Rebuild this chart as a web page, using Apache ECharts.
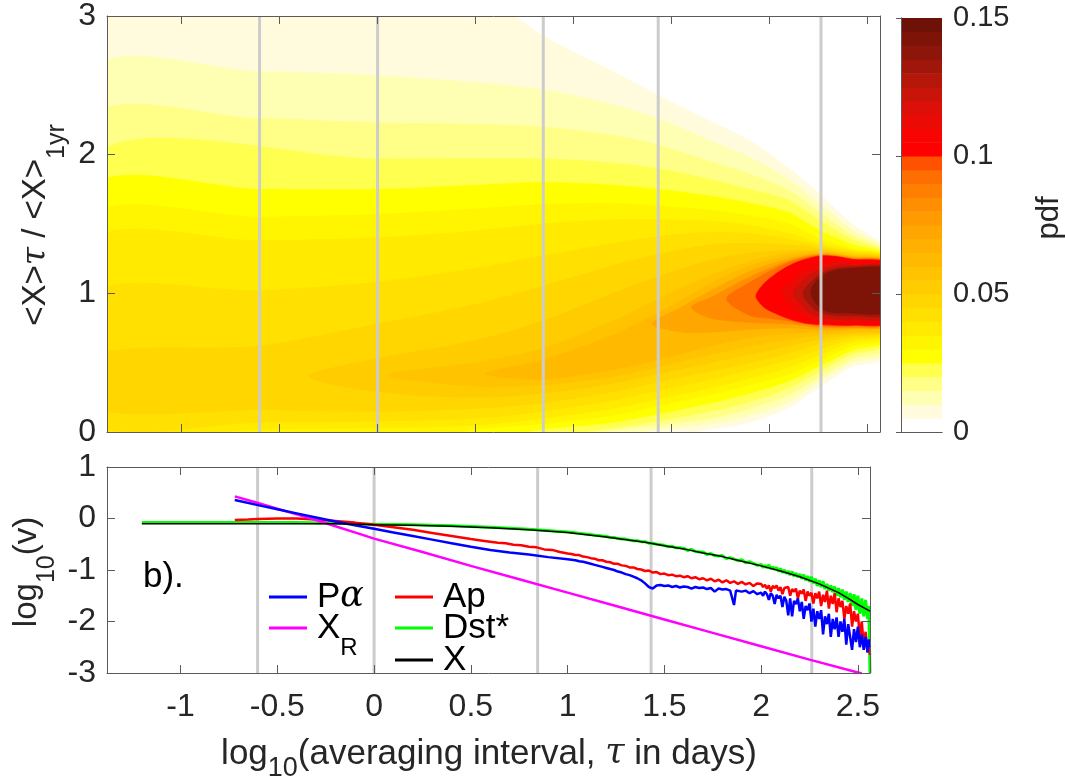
<!DOCTYPE html>
<html>
<head>
<meta charset="utf-8">
<script src="https://cdn.jsdelivr.net/npm/echarts@6/dist/echarts.min.js"></script>
<style>
html,body{margin:0;padding:0;background:#fff;}
#chart{width:1065px;height:782px;}
</style>
</head>
<body>
<div id="chart"></div>
<script>
// ---------- data ----------
// averaging interval axis: 1 hour .. 1 year, in log10(days)
const LOG_TAU_MIN = Math.log10(1 / 24);
const LOG_TAU_MAX = Math.log10(365.25);
const xTickValues = [-1, -0.5, 0, 0.5, 1, 1.5, 2, 2.5];
// reference intervals marked by vertical lines (days): 6 h, 1 d, 1 wk, 27 d, 6 months
const markerDays = [0.25, 1, 7, 27, 182.625];
const pdfTicks = [0, 0.05, 0.1, 0.15];
const PDF_BAND = 0.005;

// filled contour levels of the pdf of <X>tau/<X>1yr (panel a)
const pdfLevels = [0.005, 0.01, 0.015, 0.02, 0.025, 0.03, 0.035, 0.04, 0.045, 0.05,
                   0.055, 0.06, 0.07, 0.08, 0.09, 0.10, 0.11, 0.12, 0.13, 0.14];
// closed outline of the region pdf >= level, as [log10 tau, ratio] pairs
// (vertices on the frame are placed just outside it; the plot clips them)
const pdfContours = [
  [[-1.45,3.05],[0.61,3.05],[0.84,2.86],[1.0,2.74],[1.2,2.6],[1.43,2.43],[1.7,2.24],[1.9,2.1],[2.1,1.9],[2.26,1.71],[2.42,1.5],[2.6,1.3],
   [2.6,0.55],[2.42,0.47],[2.26,0.33],[2.1,0.18],[1.9,0.07],[1.7,0.02],[1.45,-0.03],[-1.45,-0.03]],
  [[-1.45,2.6],[-0.6,2.6],[0,2.57],[0.5,2.52],[0.84,2.47],[1.2,2.36],[1.43,2.26],[1.7,2.1],[1.9,1.98],[2.1,1.82],[2.26,1.64],[2.42,1.46],[2.6,1.29],
   [2.6,0.58],[2.42,0.5],[2.26,0.37],[2.1,0.22],[1.9,0.12],[1.7,0.06],[1.43,0.02],[1.2,-0.03],[-1.45,-0.03]],
  [[-1.45,2.26],[-0.6,2.26],[0,2.23],[0.5,2.22],[0.84,2.2],[1.2,2.14],[1.43,2.07],[1.7,1.95],[1.9,1.86],[2.1,1.74],[2.26,1.58],[2.42,1.42],[2.6,1.28],
   [2.6,0.61],[2.42,0.53],[2.26,0.4],[2.1,0.27],[1.9,0.17],[1.7,0.1],[1.43,0.05],[1.2,0.01],[1.0,-0.03],[-1.45,-0.03]],
  [[-1.45,1.99],[0,1.97],[0.84,1.97],[1.2,1.94],[1.43,1.9],[1.7,1.82],[1.9,1.75],[2.1,1.67],[2.26,1.52],[2.42,1.39],[2.6,1.27],
   [2.6,0.64],[2.42,0.56],[2.26,0.44],[2.1,0.32],[1.9,0.22],[1.7,0.15],[1.43,0.08],[1.2,0.03],[0.84,-0.03],[-1.45,-0.03]],
  [[-1.45,1.76],[-0.6,1.75],[0,1.75],[0.5,1.78],[0.84,1.8],[1.2,1.78],[1.43,1.75],[1.7,1.7],[1.9,1.65],[2.1,1.58],[2.26,1.45],[2.42,1.35],[2.6,1.26],
   [2.6,0.67],[2.42,0.59],[2.26,0.48],[2.1,0.37],[1.9,0.28],[1.7,0.21],[1.43,0.13],[1.2,0.07],[0.84,0.02],[0.6,-0.03],[-1.45,-0.03]],
  [[-1.45,1.55],[-0.6,1.55],[0,1.57],[0.5,1.61],[0.84,1.64],[1.2,1.65],[1.43,1.63],[1.7,1.6],[1.9,1.56],[2.1,1.5],[2.26,1.39],[2.42,1.32],[2.6,1.255],
   [2.6,0.69],[2.42,0.62],[2.26,0.52],[2.1,0.42],[1.9,0.34],[1.7,0.27],[1.43,0.19],[1.2,0.12],[0.84,0.06],[0.5,0.02],[0.3,-0.03],[-1.45,-0.03]],
  [[-1.45,1.38],[-0.6,1.38],[0,1.4],[0.5,1.45],[0.84,1.5],[1.2,1.53],[1.43,1.53],[1.7,1.52],[1.9,1.49],[2.1,1.43],[2.26,1.36],[2.42,1.31],[2.6,1.25],
   [2.6,0.71],[2.42,0.65],[2.26,0.56],[2.1,0.47],[1.9,0.39],[1.7,0.32],[1.43,0.24],[1.2,0.17],[0.84,0.1],[0.5,0.05],[0,0.03],[-0.6,0.02],[-1.45,0.02]],
  [[-1.45,1.0],[-0.6,1.02],[0,1.08],[0.5,1.18],[0.84,1.27],[1.2,1.36],[1.43,1.41],[1.7,1.44],[1.9,1.43],[2.1,1.39],[2.26,1.34],[2.42,1.3],[2.6,1.245],
   [2.6,0.72],[2.42,0.67],[2.26,0.6],[2.1,0.52],[1.9,0.45],[1.7,0.38],[1.43,0.3],[1.2,0.23],[0.84,0.15],[0.5,0.1],[0,0.08],[-0.6,0.07],[-1.45,0.07]],
  [[-1.45,0.55],[-0.6,0.62],[0,0.78],[0.5,0.92],[0.84,1.05],[1.2,1.2],[1.43,1.28],[1.7,1.35],[1.9,1.36],[2.1,1.35],[2.26,1.325],[2.42,1.29],[2.6,1.24],
   [2.6,0.735],[2.42,0.69],[2.26,0.64],[2.1,0.57],[1.9,0.5],[1.7,0.44],[1.43,0.36],[1.2,0.29],[0.84,0.21],[0.5,0.17],[0,0.15],[-0.6,0.16],[-1.45,0.17]],
  [[-0.35,0.4],[0,0.53],[0.5,0.66],[0.84,0.8],[1.2,1.0],[1.43,1.12],[1.7,1.24],[1.9,1.29],[2.1,1.31],[2.26,1.31],[2.42,1.28],[2.6,1.235],
   [2.6,0.745],[2.42,0.705],[2.26,0.67],[2.1,0.62],[1.9,0.56],[1.7,0.5],[1.43,0.42],[1.2,0.35],[0.84,0.28],[0.5,0.25],[0,0.29]],
  [[0.05,0.41],[0.5,0.5],[0.84,0.6],[1.2,0.8],[1.43,0.96],[1.7,1.13],[1.9,1.23],[2.1,1.29],[2.26,1.3],[2.42,1.27],[2.6,1.23],
   [2.6,0.755],[2.42,0.72],[2.26,0.7],[2.1,0.67],[1.9,0.62],[1.7,0.56],[1.43,0.47],[1.2,0.4],[0.84,0.34],[0.5,0.33]],
  [[0.55,0.42],[0.84,0.52],[1.2,0.7],[1.43,0.86],[1.7,1.07],[1.9,1.2],[2.1,1.27],[2.26,1.29],[2.42,1.265],[2.6,1.225],
   [2.6,0.77],[2.42,0.735],[2.26,0.72],[2.1,0.71],[1.9,0.68],[1.7,0.62],[1.43,0.52],[1.2,0.45],[0.84,0.38]],
  [[1.4,0.78],[1.55,0.9],[1.7,1.02],[1.9,1.16],[2.1,1.25],[2.26,1.285],[2.42,1.26],[2.6,1.22],
   [2.6,0.78],[2.42,0.745],[2.26,0.74],[2.1,0.75],[1.9,0.74],[1.7,0.72],[1.55,0.72]],
  [[1.6,0.9],[1.7,0.97],[1.9,1.12],[2.1,1.235],[2.26,1.28],[2.42,1.255],[2.6,1.22],
   [2.6,0.78],[2.42,0.755],[2.26,0.755],[2.1,0.78],[1.9,0.79],[1.7,0.82]],
  [[1.78,0.96],[1.9,1.08],[2.0,1.16],[2.1,1.225],[2.26,1.275],[2.42,1.25],[2.6,1.215],
   [2.6,0.79],[2.42,0.765],[2.26,0.765],[2.1,0.8],[2.0,0.82],[1.9,0.84]],
  [[1.93,0.98],[1.97,1.07],[2.03,1.14],[2.1,1.2],[2.18,1.245],[2.26,1.27],[2.34,1.265],[2.42,1.245],[2.6,1.21],
   [2.6,0.795],[2.42,0.77],[2.34,0.77],[2.26,0.775],[2.18,0.785],[2.1,0.815],[2.03,0.855],[1.97,0.9]],
  [[2.06,1.0],[2.1,1.08],[2.15,1.14],[2.2,1.18],[2.26,1.21],[2.34,1.225],[2.42,1.215],[2.6,1.195],
   [2.6,0.815],[2.42,0.79],[2.34,0.79],[2.26,0.8],[2.2,0.82],[2.15,0.86],[2.1,0.92]],
  [[2.12,1.0],[2.16,1.08],[2.2,1.13],[2.26,1.17],[2.34,1.2],[2.42,1.2],[2.6,1.185],
   [2.6,0.835],[2.42,0.815],[2.34,0.815],[2.26,0.83],[2.2,0.86],[2.16,0.92]],
  [[2.17,1.0],[2.21,1.08],[2.26,1.14],[2.34,1.18],[2.42,1.19],[2.6,1.175],
   [2.6,0.855],[2.42,0.84],[2.34,0.84],[2.26,0.86],[2.21,0.91]],
  [[2.21,1.01],[2.24,1.09],[2.3,1.15],[2.38,1.175],[2.6,1.165],
   [2.6,0.875],[2.38,0.86],[2.3,0.865],[2.24,0.92]]
];

// panel b: log10 of normalised variance vs log10 averaging interval
const seriesPalpha = [
  [-0.72,0.36],[-0.6,0.26],[-0.5,0.18],[-0.4,0.1],[-0.3,0.02],[-0.2,-0.06],[-0.1,-0.13],[0,-0.2],[0.1,-0.27],
  [0.2,-0.34],[0.3,-0.41],[0.4,-0.48],[0.5,-0.55],[0.6,-0.61],[0.7,-0.66],[0.8,-0.7],[0.9,-0.75],[1.0,-0.79],
  [1.02,-0.8],[1.04,-0.81],[1.06,-0.83],[1.08,-0.84],[1.1,-0.86],[1.12,-0.88],[1.14,-0.9],[1.16,-0.92],[1.18,-0.94],
  [1.2,-0.96],[1.22,-0.98],[1.24,-1.0],[1.26,-1.03],[1.28,-1.05],[1.3,-1.08],[1.32,-1.1],[1.34,-1.13],[1.36,-1.16],
  [1.38,-1.2],[1.4,-1.26],[1.42,-1.33],[1.44,-1.36],[1.46,-1.3],[1.48,-1.29],[1.5,-1.31],[1.52,-1.3],[1.54,-1.33],
  [1.56,-1.31],[1.58,-1.34],[1.6,-1.32],[1.62,-1.33],[1.64,-1.36],[1.66,-1.33],[1.68,-1.35],[1.7,-1.34],[1.72,-1.37],
  [1.74,-1.35],[1.76,-1.42],[1.78,-1.36],[1.8,-1.38],[1.82,-1.37],[1.84,-1.4],[1.86,-1.68],[1.87,-1.4],[1.88,-1.39],
  [1.9,-1.42],[1.92,-1.4],[1.94,-1.45],[1.96,-1.41],[1.98,-1.47],
  [2.0,-1.44],[2.01,-1.5],[2.02,-1.42],[2.03,-1.47],[2.04,-1.58],[2.05,-1.45],[2.06,-1.5],[2.07,-1.66],[2.08,-1.48],
  [2.09,-1.55],[2.1,-1.5],[2.11,-1.72],[2.12,-1.52],[2.13,-1.6],[2.14,-1.88],[2.15,-1.55],[2.16,-1.9],[2.17,-1.6],
  [2.18,-1.66],[2.19,-1.55],[2.2,-1.8],[2.21,-1.62],[2.22,-1.95],[2.23,-1.7],[2.24,-1.78],[2.25,-1.65],[2.26,-2.0],
  [2.27,-1.75],[2.28,-2.1],[2.29,-1.8],[2.3,-1.95],[2.31,-1.78],[2.32,-2.25],[2.33,-1.9],[2.34,-2.05],[2.35,-1.85],
  [2.36,-2.3],[2.37,-1.95],[2.38,-2.15],[2.39,-1.92],[2.4,-2.3],[2.41,-2.0],[2.42,-2.2],[2.43,-1.95],[2.44,-2.45],
  [2.45,-2.05],[2.46,-2.3],[2.47,-2.55],[2.48,-2.15],[2.49,-2.4],[2.5,-2.1],[2.51,-2.5],[2.52,-2.25],[2.53,-2.55],
  [2.54,-2.3],[2.55,-2.6],[2.556,-2.35],[2.5626,-2.5]
];
const seriesAp = [
  [-0.72,-0.03],[-0.65,-0.02],[-0.6,-0.01],[-0.5,0.0],[-0.4,0.0],[-0.3,-0.02],[-0.2,-0.05],[-0.1,-0.08],[0,-0.12],
  [0.1,-0.17],[0.2,-0.22],[0.3,-0.28],[0.4,-0.34],[0.5,-0.4],[0.56,-0.43],[0.6,-0.45],[0.64,-0.47],[0.68,-0.48],
  [0.72,-0.51],[0.76,-0.52],[0.8,-0.55],[0.84,-0.56],[0.88,-0.6],[0.92,-0.61],[0.96,-0.65],
  [1.0,-0.68],[1.02,-0.69],[1.04,-0.71],[1.06,-0.71],[1.08,-0.74],[1.1,-0.75],[1.12,-0.77],[1.14,-0.78],[1.16,-0.81],
  [1.18,-0.81],[1.2,-0.84],[1.22,-0.85],[1.24,-0.88],[1.26,-0.88],[1.28,-0.91],[1.3,-0.92],[1.32,-0.95],[1.34,-0.95],
  [1.36,-0.98],[1.38,-0.99],[1.4,-1.02],[1.42,-1.01],[1.44,-1.05],[1.46,-1.04],[1.48,-1.08],[1.5,-1.07],[1.52,-1.1],
  [1.54,-1.09],[1.56,-1.12],[1.58,-1.11],[1.6,-1.14],[1.62,-1.12],[1.64,-1.16],[1.66,-1.14],[1.68,-1.18],[1.7,-1.16],
  [1.72,-1.2],[1.74,-1.17],[1.76,-1.22],[1.78,-1.19],[1.8,-1.24],[1.82,-1.2],[1.84,-1.25],[1.86,-1.22],[1.88,-1.27],
  [1.9,-1.23],[1.92,-1.28],[1.94,-1.25],[1.96,-1.31],[1.98,-1.26],
  [2.0,-1.27],[2.01,-1.33],[2.02,-1.29],[2.03,-1.36],[2.04,-1.3],[2.05,-1.42],[2.06,-1.31],[2.07,-1.35],[2.08,-1.3],
  [2.09,-1.4],[2.1,-1.33],[2.11,-1.47],[2.12,-1.35],[2.13,-1.38],[2.14,-1.33],[2.15,-1.5],[2.16,-1.37],[2.17,-1.42],
  [2.18,-1.36],[2.19,-1.55],[2.2,-1.4],[2.21,-1.46],[2.22,-1.38],[2.23,-1.6],[2.24,-1.42],[2.25,-1.5],[2.26,-1.44],
  [2.27,-1.65],[2.28,-1.45],[2.29,-1.55],[2.3,-1.42],[2.31,-1.7],[2.32,-1.48],[2.33,-1.62],[2.34,-1.4],[2.35,-1.75],
  [2.36,-1.5],[2.37,-1.66],[2.38,-1.45],[2.39,-1.82],[2.4,-1.55],[2.41,-1.72],[2.42,-1.6],[2.43,-1.95],[2.44,-1.7],
  [2.45,-1.85],[2.46,-1.65],[2.47,-2.1],[2.48,-1.8],[2.49,-2.0],[2.5,-1.85],[2.51,-2.3],[2.52,-2.0],[2.53,-2.45],
  [2.54,-2.2],[2.55,-2.6],[2.556,-2.4],[2.5626,-2.65]
];
const seriesXR = [
  [-0.72,0.43],[-0.6,0.3],[-0.5,0.19],[-0.4,0.08],[-0.3,-0.03],[-0.2,-0.15],[-0.1,-0.27],[0,-0.39],[0.25,-0.65],
  [0.5,-0.92],[0.75,-1.18],[1.0,-1.44],[1.25,-1.7],[1.5,-1.96],[1.75,-2.22],[2.0,-2.48],[2.25,-2.74],[2.5,-2.99],[2.52,-3.01]
];
const seriesDst = [
  [-1.2,-0.08],[-1.0,-0.08],[-0.8,-0.08],[-0.6,-0.08],[-0.4,-0.08],[-0.2,-0.09],[0,-0.11],[0.2,-0.12],[0.4,-0.14],
  [0.6,-0.17],[0.8,-0.21],[1.0,-0.26],
  [1.2,-0.35],[1.22,-0.37],[1.24,-0.37],[1.26,-0.39],[1.28,-0.4],[1.3,-0.4],[1.32,-0.42],[1.34,-0.43],[1.36,-0.43],
  [1.38,-0.45],[1.4,-0.45],[1.42,-0.48],[1.44,-0.48],[1.46,-0.5],[1.48,-0.51],[1.5,-0.52],[1.52,-0.55],[1.54,-0.54],
  [1.56,-0.57],[1.58,-0.57],[1.6,-0.58],[1.62,-0.62],[1.64,-0.6],[1.66,-0.64],[1.68,-0.65],[1.7,-0.65],[1.72,-0.7],
  [1.74,-0.68],[1.76,-0.72],[1.78,-0.73],[1.8,-0.72],[1.82,-0.78],[1.84,-0.76],[1.86,-0.79],[1.88,-0.82],[1.9,-0.8],
  [1.92,-0.86],[1.94,-0.84],[1.96,-0.87],[1.98,-0.91],
  [2.0,-0.89],[2.01,-0.95],[2.02,-0.91],[2.03,-0.96],[2.04,-0.9],[2.05,-0.98],[2.06,-0.94],[2.07,-0.99],[2.08,-0.95],
  [2.09,-1.03],[2.1,-0.97],[2.11,-1.05],[2.12,-1.0],[2.13,-1.07],[2.14,-1.02],[2.15,-1.1],[2.16,-1.03],[2.17,-1.12],
  [2.18,-1.06],[2.19,-1.14],[2.2,-1.08],[2.21,-1.17],[2.22,-1.09],[2.23,-1.2],[2.24,-1.12],[2.25,-1.23],[2.26,-1.13],
  [2.27,-1.26],[2.28,-1.17],[2.29,-1.31],[2.3,-1.2],[2.31,-1.33],[2.32,-1.22],[2.33,-1.37],[2.34,-1.27],[2.35,-1.4],
  [2.36,-1.3],[2.37,-1.43],[2.38,-1.32],[2.39,-1.5],[2.4,-1.35],[2.41,-1.53],[2.42,-1.38],[2.43,-1.58],[2.44,-1.42],
  [2.45,-1.62],[2.46,-1.45],[2.47,-1.7],[2.48,-1.47],[2.49,-1.78],[2.5,-1.5],[2.51,-1.85],[2.52,-1.55],[2.53,-1.9],
  [2.54,-1.58],[2.55,-1.95],[2.556,-1.7],[2.5626,-3.0]
];
const seriesX = [
  [-1.2,-0.1],[-1.0,-0.1],[-0.8,-0.1],[-0.6,-0.1],[-0.4,-0.1],[-0.2,-0.1],[0,-0.12],[0.2,-0.13],[0.4,-0.15],
  [0.6,-0.18],[0.8,-0.22],[1.0,-0.27],[1.2,-0.36],[1.4,-0.46],[1.5,-0.53],[1.6,-0.59],[1.7,-0.67],[1.8,-0.74],
  [1.9,-0.83],[2.0,-0.92],[2.1,-1.02],[2.2,-1.13],[2.3,-1.27],[2.4,-1.44],[2.45,-1.55],[2.5,-1.67],[2.5626,-1.8]
];

// ---------- styles ----------
// one colour per 0.005-wide pdf band, from 0 up to 0.15
const pdfBandColors = [
  '#ffffff','#fffbdc','#ffffb4','#ffff88','#ffff50','#ffff00','#fff500','#ffea00','#ffe000','#ffd600',
  '#ffcc00','#ffc300','#ffba00','#ffb000','#ffa600','#ff9a00','#ff8e00','#ff8000','#ff6e00','#ff5200',
  '#ff0000','#f80402','#ec0a05','#dc1008','#c81409','#b4160a','#a0160a','#8e1509','#7e1308','#6e1107'
];
function bandColor(v) {
  const i = Math.min(pdfBandColors.length - 1, Math.floor(v / PDF_BAND + 1e-6));
  return pdfBandColors[i];
}
const FONT = '"Liberation Sans", Arial, Helvetica, sans-serif';
const GREEK = '"DejaVu Serif", serif';
const INK = '#262626';
const AXIS = '#5a5a5a';
const TICK_FONT = 32;

const markerLogTau = markerDays.map(d => Math.log10(d));

function xAxisBox(gridIndex, position, showLabel) {
  return {
    type: 'value', gridIndex, position, min: LOG_TAU_MIN, max: LOG_TAU_MAX, z: 10,
    axisLine: { show: true, onZero: false, lineStyle: { color: AXIS, width: 1 } },
    axisTick: { show: true, inside: true, length: 8, customValues: xTickValues, lineStyle: { color: AXIS } },
    axisLabel: { show: showLabel, customValues: xTickValues, margin: 18, color: INK, fontSize: TICK_FONT, fontFamily: FONT,
                 formatter: v => String(v) },
    splitLine: { show: false }
  };
}
function yAxisBox(gridIndex, position, min, max, showLabel) {
  return {
    type: 'value', gridIndex, position, min, max, interval: 1, z: 10,
    axisLine: { show: true, onZero: false, lineStyle: { color: AXIS, width: 1 } },
    axisTick: { show: true, inside: true, length: 8, lineStyle: { color: AXIS } },
    axisLabel: { show: showLabel, margin: 11, color: INK, fontSize: TICK_FONT, fontFamily: FONT },
    splitLine: { show: false }
  };
}

function markerLines(xAxisIndex, yAxisIndex, yMin, yMax, z) {
  return {
    type: 'custom', xAxisIndex, yAxisIndex, z, silent: true, clip: true,
    data: markerLogTau.map(v => [v, yMin]),
    renderItem: (params, api) => {
      const p1 = api.coord([api.value(0), yMin]);
      const p2 = api.coord([api.value(0), yMax]);
      return { type: 'line', shape: { x1: p1[0], y1: p1[1], x2: p2[0], y2: p2[1] },
               style: { stroke: '#cccccc', lineWidth: 3 } };
    }
  };
}

function lineSeries(name, data, color, width, z) {
  return {
    name, type: 'line', xAxisIndex: 2, yAxisIndex: 2, data, z,
    showSymbol: false, symbol: 'none', clip: true, smooth: false,
    lineStyle: { color, width }, itemStyle: { color }
  };
}

// rich-text styles: subscripts sit lower by half their top padding
function richStyles(main, sub, drop, color) {
  return {
    n: { fontSize: main, fontFamily: FONT, color, fill: color, lineHeight: main, verticalAlign: 'middle' },
    g: { fontSize: main, fontFamily: GREEK, fontStyle: 'italic', color, fill: color, lineHeight: main, verticalAlign: 'middle' },
    s: { fontSize: sub, fontFamily: FONT, color, fill: color, lineHeight: sub, padding: [2 * drop, 0, 0, 0], verticalAlign: 'middle' }
  };
}

function legendAt(name, left, top, formatter) {
  return {
    data: [name], left, top, orient: 'vertical', padding: 0, icon: 'rect', itemWidth: 38, itemHeight: 3,
    selectedMode: false, formatter,
    textStyle: { fontSize: 35, fontFamily: FONT, color: '#000', padding: [0, 0, 0, 5], rich: richStyles(35, 24, 20, '#000') }
  };
}

const option = {
  animation: false,
  backgroundColor: '#ffffff',
  grid: [
    { left: 107, top: 16, width: 773, height: 416 },
    { left: 107, top: 467, width: 763, height: 206 },
    { left: 901, top: 18, width: 41, height: 414 }
  ],
  xAxis: [
    xAxisBox(0, 'bottom', false),
    xAxisBox(0, 'top', false),
    xAxisBox(1, 'bottom', true),
    xAxisBox(1, 'top', false),
    { type: 'value', gridIndex: 2, position: 'bottom', min: 0, max: 1, z: 10,
      axisLine: { show: true, lineStyle: { color: AXIS } }, axisTick: { show: false }, axisLabel: { show: false }, splitLine: { show: false } },
    { type: 'value', gridIndex: 2, position: 'top', min: 0, max: 1, z: 10,
      axisLine: { show: true, lineStyle: { color: AXIS } }, axisTick: { show: false }, axisLabel: { show: false }, splitLine: { show: false } }
  ],
  yAxis: [
    yAxisBox(0, 'left', 0, 3, true),
    yAxisBox(0, 'right', 0, 3, false),
    yAxisBox(1, 'left', -3, 1, true),
    yAxisBox(1, 'right', -3, 1, false),
    { type: 'value', gridIndex: 2, position: 'right', min: 0, max: 0.15, z: 10,
      axisLine: { show: true, lineStyle: { color: AXIS } },
      axisTick: { show: true, inside: true, length: 5, customValues: pdfTicks, lineStyle: { color: AXIS } },
      axisLabel: { show: true, customValues: pdfTicks, margin: 11, color: INK, fontSize: 29, fontFamily: FONT,
                   formatter: v => String(v) },
      splitLine: { show: false } },
    { type: 'value', gridIndex: 2, position: 'left', min: 0, max: 0.15, z: 10,
      axisLine: { show: true, lineStyle: { color: AXIS } }, axisTick: { show: false }, axisLabel: { show: false }, splitLine: { show: false } }
  ],
  legend: [
    legendAt('Pα', 269, 597 - 17.5, () => '{n|P}{g|α}'),
    legendAt('X_R', 269, 628 - 32, () => '{n|X}{s|R}'),
    legendAt('Ap', 395, 597 - 17.5, () => '{n|Ap}'),
    legendAt('Dst*', 395, 628 - 17.5, () => '{n|Dst*}'),
    legendAt('X', 395, 660 - 17.5, () => '{n|X}')
  ],
  series: [
    // panel a: filled pdf contours, lowest level first
    {
      type: 'custom', xAxisIndex: 0, yAxisIndex: 0, z: 2, silent: true, clip: true,
      data: pdfLevels.map((lv, k) => [k, lv]),
      renderItem: (params, api) => {
        const k = api.value(0);
        const pts = pdfContours[k].map(p => api.coord(p));
        const c = bandColor(pdfLevels[k]);
        return { type: 'polygon', shape: { points: pts, smooth: 0.3 }, style: { fill: c, stroke: c, lineWidth: 0.6 } };
      }
    },
    markerLines(0, 0, 0, 3, 3),
    // colour bar
    {
      type: 'custom', xAxisIndex: 4, yAxisIndex: 4, z: 2, silent: true,
      data: pdfBandColors.map((c, i) => [i, i * PDF_BAND]),
      renderItem: (params, api) => {
        const i = api.value(0);
        const p0 = api.coord([0, i * PDF_BAND]);
        const p1 = api.coord([1, (i + 1) * PDF_BAND]);
        return { type: 'rect', shape: { x: p0[0], y: p1[1], width: p1[0] - p0[0], height: p0[1] - p1[1] + 0.5 },
                 style: { fill: pdfBandColors[i] } };
      }
    },
    // panel b
    markerLines(2, 2, -3, 1, 1),
    lineSeries('Dst*', seriesDst, '#00ff00', 3, 3),
    lineSeries('Ap', seriesAp, '#ff0000', 2.5, 4),
    lineSeries('X_R', seriesXR, '#ff00ff', 2.5, 5),
    lineSeries('Pα', seriesPalpha, '#0000ff', 2.5, 6),
    lineSeries('X', seriesX, '#000000', 1.5, 7)
  ],
  graphic: [
    { type: 'text', x: 143, y: 93, style: { text: 'a).', font: `35px ${FONT}`, fill: '#000', verticalAlign: 'middle' } },
    { type: 'text', x: 143, y: 577, style: { text: 'b).', font: `35px ${FONT}`, fill: '#000', verticalAlign: 'middle' } },
    { type: 'text', x: 489, y: 754,
      style: { text: '{n|log}{s|10}{n|(averaging interval, }{g|τ}{n| in days)}', align: 'center', verticalAlign: 'middle',
        rich: richStyles(35, 27, 15, INK) } },
    { type: 'text', x: 36, y: 225, rotation: Math.PI / 2,
      style: { text: '{n|<X>}{g|τ}{n| / <X>}{s|1yr}', align: 'center', verticalAlign: 'middle',
        rich: richStyles(33, 25, 21, INK) } },
    { type: 'text', x: 27, y: 572, rotation: Math.PI / 2,
      style: { text: '{n|log}{s|10}{n|(v)}', align: 'center', verticalAlign: 'middle',
        rich: richStyles(33, 25, 20, INK) } },
    { type: 'text', x: 1049, y: 218, rotation: Math.PI / 2,
      style: { text: 'pdf', font: `31px ${FONT}`, fill: INK, align: 'center', verticalAlign: 'middle' } }
  ]
};

const chart = echarts.init(document.getElementById('chart'), null, { renderer: 'canvas' });
chart.setOption(option);
</script>
</body>
</html>
